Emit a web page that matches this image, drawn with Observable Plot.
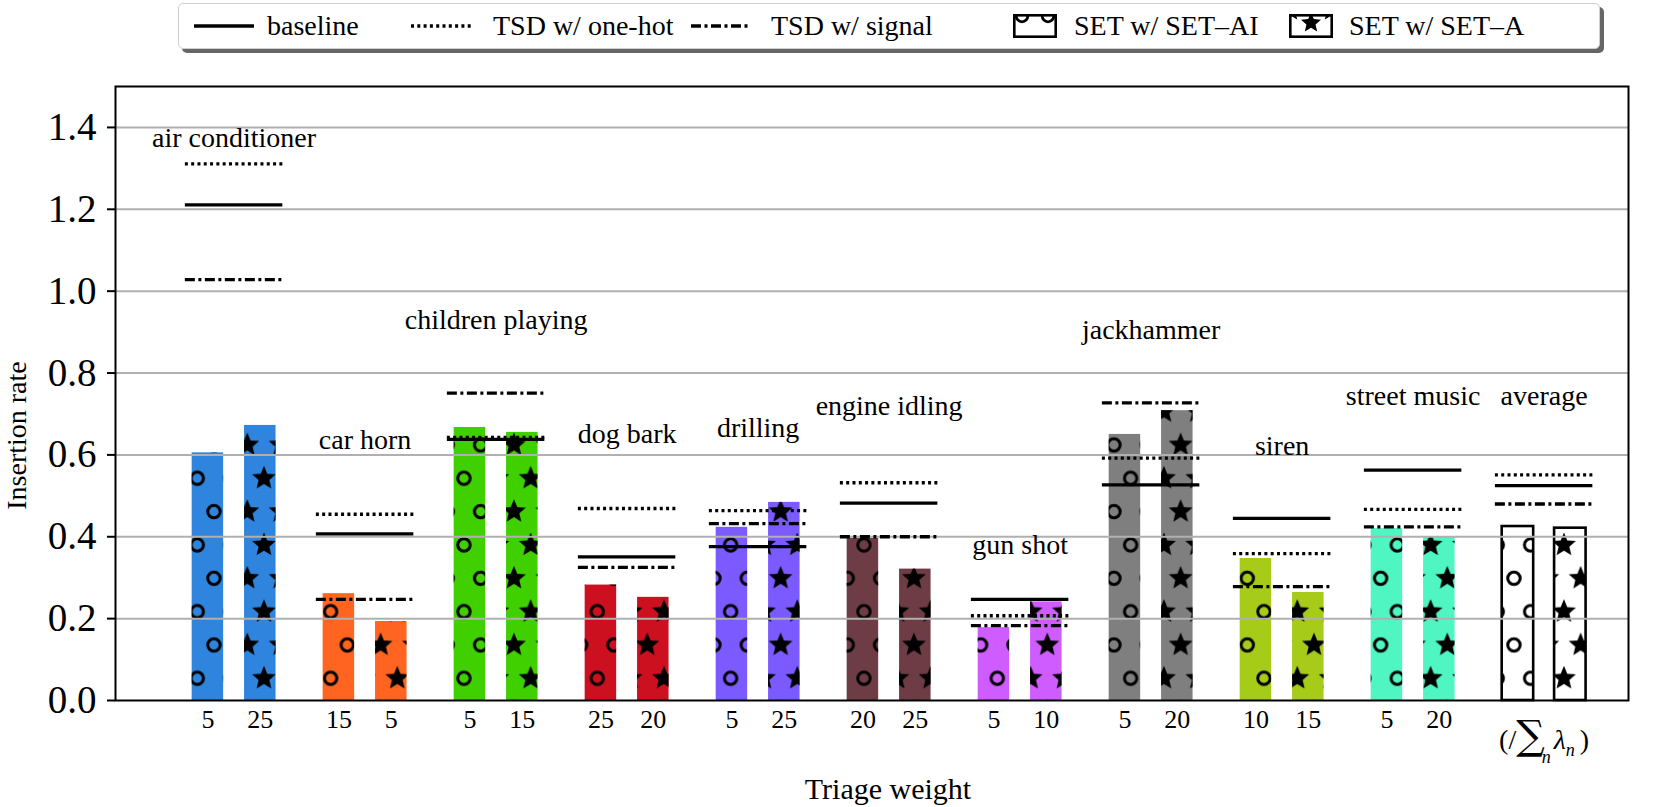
<!DOCTYPE html>
<html><head><meta charset="utf-8">
<script src="https://cdn.jsdelivr.net/npm/d3@7"></script>
<script src="https://cdn.jsdelivr.net/npm/@observablehq/plot@0.6"></script>
<style>
body{margin:0;background:#fff;font-family:"Liberation Serif","DejaVu Serif",serif;}
#legend{position:relative;height:60px;width:1661px;}
.lbox{position:absolute;left:178px;top:3px;width:1420px;height:44px;border:1.5px solid #cfcfcf;border-radius:5px;box-shadow:4px 4px 0 #666;background:#fff;}
.item{position:absolute;top:0;height:44px;display:flex;align-items:center;font-size:28px;color:#000;white-space:nowrap;}
</style></head><body>
<div id="legend"></div>
<div id="chart"></div>
<script>
// ---- data ----
const categories = ["air conditioner","car horn","children playing","dog bark","drilling","engine idling","gun shot","jackhammer","siren","street music","average"];
const weightsAI = ["5","15","5","25","5","20","5","5","10","5"];
const weightsA  = ["25","5","15","20","25","25","10","20","15","20"];
const setAI    = [0.605,0.261,0.667,0.282,0.423,0.396,0.178,0.650,0.347,0.420,0.425];
const setA     = [0.672,0.193,0.655,0.252,0.484,0.321,0.241,0.708,0.264,0.398,0.421];
const baseline = [1.211,0.407,0.638,0.351,0.376,0.482,0.247,0.527,0.445,0.563,0.525];
const tsdOneHot= [1.311,0.455,0.643,0.469,0.464,0.532,0.207,0.592,0.359,0.467,0.551];
const tsdSignal= [1.028,0.247,0.751,0.325,0.432,0.400,0.183,0.727,0.278,0.424,0.480];
const labelLevel=[1.373,0.636,0.929,0.650,0.665,0.719,0.380,0.905,0.621,0.745,0.745];
const colors = ["#2f85de","#ff6421","#40d000","#cc101f","#7b5bff","#6d3c44","#cf5cff","#7f7f7f","#a7cb19","#4ff6c2","#ffffff"];
const yTicks = [0,0.2,0.4,0.6,0.8,1.0,1.2,1.4];
const averageTick = "(/\u2211n\u03bbn)";
const legendItems = [
  {label:"baseline", kind:"solid"},
  {label:"TSD w/ one-hot", kind:"dotted"},
  {label:"TSD w/ signal", kind:"dashdot"},
  {label:"SET w/ SET\u2013AI", kind:"circles"},
  {label:"SET w/ SET\u2013A", kind:"stars"}
];

// ---- derived tables ----
const OFF = 0.2, HALF = 0.1202, LHALF = 0.372;
const bars = [];
categories.forEach((c,i)=>{
  bars.push({i, c, s:-1, v:setAI[i], color:colors[i], hatch:"url(#hatchO)"});
  bars.push({i, c, s: 1, v:setA[i],  color:colors[i], hatch:"url(#hatchS)"});
});
const groups = categories.map((c,i)=>({i,c,b:baseline[i],o:tsdOneHot[i],g:tsdSignal[i],l:labelLevel[i]}));
const tickPos = [], tickLab = new Map();
weightsAI.forEach((w,i)=>{ const a=+(i-OFF).toFixed(2), b=+(i+OFF).toFixed(2); tickPos.push(a,b); tickLab.set(a.toFixed(2),w); tickLab.set(b.toFixed(2),weightsA[i]); });

const DOT = "3,3.3", DASHDOT = "10,3.5,3,3.5", LW = 3.3;
const font = "Liberation Serif, DejaVu Serif, serif";

const chart = Plot.plot({
  width:1661, height:747, marginTop:26, marginBottom:107, marginLeft:115, marginRight:33,
  style:{fontFamily:font, background:"white", color:"black"},
  x:{type:"linear", domain:[-0.9053,10.644], axis:null},
  y:{domain:[0,1.5], axis:null},
  marks:[
    Plot.rect(bars,{x1:d=>d.i+d.s*OFF-HALF, x2:d=>d.i+d.s*OFF+HALF, y1:0, y2:"v", fill:"color"}),
    Plot.rect(bars,{x1:d=>d.i+d.s*OFF-HALF, x2:d=>d.i+d.s*OFF+HALF, y1:0, y2:"v", fill:"hatch"}),
    Plot.rect(bars.filter(d=>d.c==="average"),{x1:d=>d.i+d.s*OFF-HALF, x2:d=>d.i+d.s*OFF+HALF, y1:0, y2:"v", fill:"none", stroke:"black", strokeWidth:2.6}),
    Plot.ruleY(yTicks.filter(d=>d>0),{stroke:"#b0b0b0", strokeWidth:2}),
    Plot.ruleY(groups,{y:"b", x1:d=>d.i-LHALF, x2:d=>d.i+LHALF, stroke:"black", strokeWidth:LW}),
    Plot.ruleY(groups,{y:"o", x1:d=>d.i-LHALF, x2:d=>d.i+LHALF, stroke:"black", strokeWidth:LW, strokeDasharray:DOT}),
    Plot.ruleY(groups,{y:"g", x1:d=>d.i-LHALF, x2:d=>d.i+LHALF, stroke:"black", strokeWidth:LW, strokeDasharray:DASHDOT}),
    Plot.text(groups,{x:"i", y:"l", text:"c", fontSize:28, textAnchor:"middle", lineAnchor:"middle", fill:"black"}),
    Plot.frame({stroke:"black", strokeWidth:2}),
    Plot.axisY(yTicks,{tickSize:8, tickPadding:11, fontSize:39, tickFormat:d3.format(".1f"), label:null, strokeWidth:2}),
    Plot.axisX(tickPos,{tickSize:0, tickPadding:9, fontSize:26, tickFormat:d=>tickLab.get((+d).toFixed(2)), label:null}),
    Plot.text(["Insertion rate"],{frameAnchor:"left", text:d=>d, rotate:-90, dx:-98, dy:42, fontSize:28, lineAnchor:"middle", textAnchor:"middle"}),
    Plot.text(["Triage weight"],{frameAnchor:"bottom", text:d=>d, dx:16, dy:89, fontSize:30, lineAnchor:"middle", textAnchor:"middle"}),
    Plot.text([10],{x:d=>d, frameAnchor:"bottom", text:()=>averageTick, dy:40, fontSize:28, lineAnchor:"middle", textAnchor:"middle"})
  ]
});

// rich math label for the average tick: (/ sum_n lambda_n)
d3.select(chart).selectAll("text").filter(function(){ return this.textContent===averageTick; }).each(function(){
  const t = d3.select(this); t.text(null);
  t.append("tspan").text("(/");
  t.append("tspan").attr("font-size",40).attr("font-family","DejaVu Serif").text("\u2211");
  t.append("tspan").attr("font-size",18).attr("font-style","italic").attr("dx",-3).attr("dy",14).text("n");
  t.append("tspan").attr("font-size",28).attr("font-style","italic").attr("dx",3).attr("dy",-14).text("\u03bb");
  t.append("tspan").attr("font-size",18).attr("font-style","italic").attr("dy",7).text("n");
  t.append("tspan").attr("font-size",28).attr("dx",5).attr("dy",-7).text(")");
});

// hatch patterns (matplotlib-like 'o' and '*' lattices)
const P = 100/3;
const defs = d3.select(chart).insert("defs",":first-child");
function starPath(cx,cy,R,r){
  let p=""; for(let k=0;k<10;k++){const a=-Math.PI/2+k*Math.PI/5, rr=k%2?r:R; p+=(k?"L":"M")+(cx+rr*Math.cos(a)).toFixed(2)+","+(cy+rr*Math.sin(a)).toFixed(2);} return p+"Z";
}
const pts = [[0,0],[P,0],[0,2*P],[P,2*P],[P/2,P]];
const po = defs.append("pattern").attr("id","hatchO").attr("patternUnits","userSpaceOnUse")
  .attr("width",P).attr("height",2*P).attr("x",197.3).attr("y",618.3);
pts.forEach(([x,y])=>po.append("circle").attr("cx",x).attr("cy",y).attr("r",6.2).attr("fill","none").attr("stroke","black").attr("stroke-width",3));
const ps = defs.append("pattern").attr("id","hatchS").attr("patternUnits","userSpaceOnUse")
  .attr("width",P).attr("height",2*P).attr("x",197.3).attr("y",618.3);
pts.forEach(([x,y])=>ps.append("path").attr("d",starPath(x,y,12.5,5.6)).attr("fill","black"));
document.getElementById("chart").appendChild(chart);

// legend
const leg = document.getElementById("legend");
const box = document.createElement("div"); box.className="lbox"; leg.appendChild(box);
const lx = [[193,266],[410,492],[690,770],[1012,1073],[1288,1348]];
legendItems.forEach((it,k)=>{
  const sw = document.createElement("div"); sw.className="item"; sw.style.left=(lx[k][0]-178)+"px";
  let s;
  if(it.kind==="solid"||it.kind==="dotted"||it.kind==="dashdot"){
    const da = it.kind==="dotted"?DOT:it.kind==="dashdot"?DASHDOT:"none";
    s = `<svg width="60" height="12"><line x1="0" x2="60" y1="6" y2="6" stroke="black" stroke-width="${LW}" stroke-dasharray="${da}"/></svg>`;
  } else {
    const inner = it.kind==="circles"
      ? `<circle cx="9" cy="2" r="5.8" fill="none" stroke="black" stroke-width="2.8"/><circle cx="35" cy="2" r="5.8" fill="none" stroke="black" stroke-width="2.8"/>`
      : `<path d="${starPath(22,9,10.5,4.8)}" fill="black"/><path d="${starPath(2,-3,10.5,4.8)}" fill="black"/><path d="${starPath(42,-3,10.5,4.8)}" fill="black"/>`;
    s = `<svg width="44" height="24"><rect x="1.3" y="1.3" width="41.4" height="21.4" fill="white"/>${inner}<rect x="1.3" y="1.3" width="41.4" height="21.4" fill="none" stroke="black" stroke-width="2.6"/></svg>`;
  }
  sw.innerHTML = s; box.appendChild(sw);
  const tx = document.createElement("div"); tx.className="item"; tx.style.left=(lx[k][1]-178)+"px"; tx.textContent=it.label; box.appendChild(tx);
});
</script>
</body></html>
